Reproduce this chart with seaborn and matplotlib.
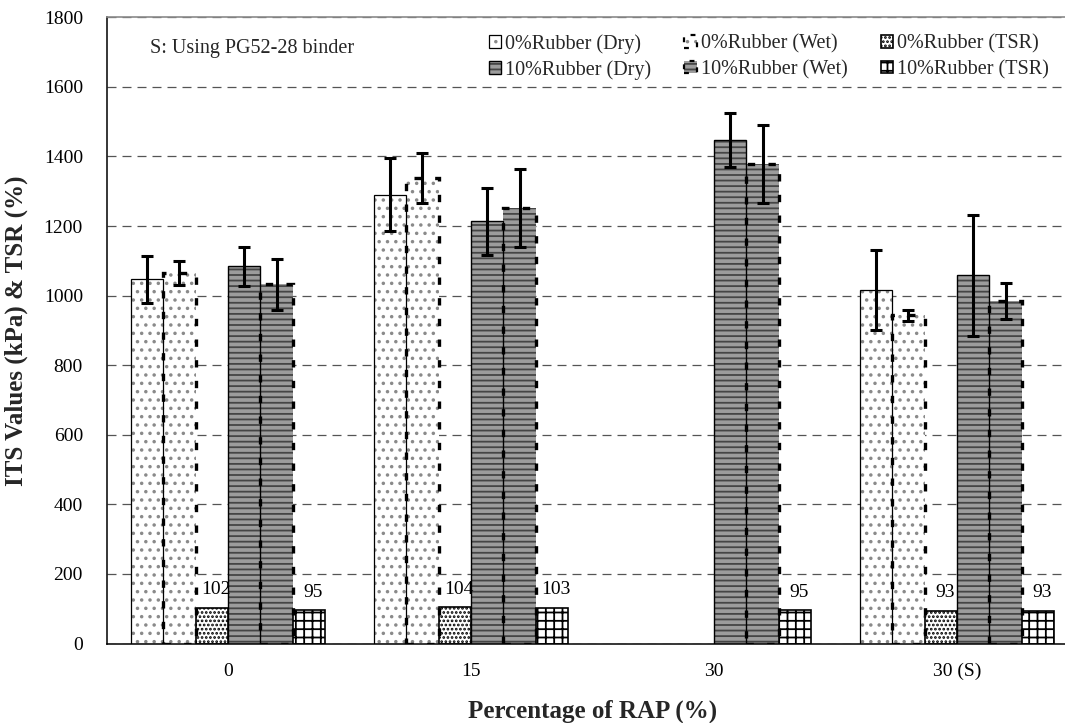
import numpy as np
import pandas as pd
import matplotlib
matplotlib.use("Agg")
import matplotlib.pyplot as plt
import matplotlib.patches as mpatches
import seaborn as sns

# ---------------- data ----------------
categories = ["0", "15", "30", "30 (S)"]
series = ["0%Rubber (Dry)", "0%Rubber (Wet)", "0%Rubber (TSR)",
          "10%Rubber (Dry)", "10%Rubber (Wet)", "10%Rubber (TSR)"]
dry0 = [1047, 1290, np.nan, 1017]
wet0 = [1065, 1338, np.nan, 943]
tsr0 = [102, 104, np.nan, 93]
dry10 = [1084, 1214, 1447, 1058]
wet10 = [1032, 1252, 1378, 984]
tsr10 = [95, 103, 95, 93]
err_dry0 = [68, 105, np.nan, 115]
err_wet0 = [34, 72, np.nan, 15]
err_dry10 = [57, 96, 78, 173]
err_wet10 = [72, 111, 112, 52]
yticks = [0, 200, 400, 600, 800, 1000, 1200, 1400, 1600, 1800]
note = "S: Using PG52-28 binder"
xlabel = "Percentage of RAP (%)"
ylabel = "ITS Values (kPa) & TSR (%)"

values = [dry0, wet0, tsr0, dry10, wet10, tsr10]
errors = [err_dry0, err_wet0, None, err_dry10, err_wet10, None]

rows = []
for s, vals, errs in zip(series, values, errors):
    for i, c in enumerate(categories):
        if not np.isnan(vals[i]):
            rows.append({"RAP": c, "Series": s, "Value": vals[i],
                         "Err": (np.nan if errs is None else errs[i])})
df = pd.DataFrame(rows)

# ---------------- styles ----------------
styles = {
    "0%Rubber (Dry)":  dict(face="white", hatch="..", hcol="#8a8a8a", ls="-", lw=0.9),
    "0%Rubber (Wet)":  dict(face="white", hatch="..", hcol="#8a8a8a", ls=(0, (2.2, 4.0)), lw=2.4),
    "0%Rubber (TSR)":  dict(face="white", hatch="....", hcol="black", ls="-", lw=1.2),
    "10%Rubber (Dry)": dict(face="#9c9c9c", hatch="---", hcol="#454545", ls="-", lw=1.0),
    "10%Rubber (Wet)": dict(face="#9c9c9c", hatch="---", hcol="#454545", ls=(0, (2.2, 4.0)), lw=2.4),
    "10%Rubber (TSR)": dict(face="white", hatch="++", hcol="black", ls="-", lw=1.2),
}

sns.set_theme(style="white")
plt.rcParams["font.family"] = ["Liberation Serif", "DejaVu Serif"]
plt.rcParams["hatch.linewidth"] = 1.3

fig = plt.figure(figsize=(10.65, 7.23), dpi=100)
ax = fig.add_axes([106.5 / 1065, 1 - 643.5 / 723, 972 / 1065, 626.2 / 723])

palette = {s: styles[s]["face"] for s in series}
sns.barplot(data=df, x="RAP", y="Value", hue="Series", order=categories,
            hue_order=series, palette=palette, width=0.8, errorbar=None,
            legend=False, ax=ax, saturation=1)

# style bars, add dashed / solid edges, error bars, TSR labels
for s, cont in zip(series, ax.containers):
    st = styles[s]
    sub = df[df["Series"] == s].set_index("RAP")
    for p in cont.patches:
        h = p.get_height()
        if not np.isfinite(h):
            continue
        p.set_facecolor(st["face"])
        p.set_hatch(st["hatch"])
        p.set_edgecolor(st["hcol"])
        p.set_linewidth(0)
        edge = mpatches.Rectangle((p.get_x(), p.get_y()), p.get_width(), h,
                                  fill=False, edgecolor="black",
                                  linewidth=st["lw"], linestyle=st["ls"], zorder=p.get_zorder() + 0.1)
        ax.add_patch(edge)
        xc = p.get_x() + p.get_width() / 2
        cat = categories[int(round(xc))]
        row = sub.loc[cat]
        if np.isfinite(row["Err"]):
            ax.errorbar(xc, row["Value"], yerr=row["Err"], fmt="none",
                        ecolor="black", elinewidth=2.2, capsize=4, capthick=2.2, zorder=5)
        if "TSR" in s:
            ax.annotate(f"{int(row['Value'])}", xy=(xc, h), xytext=(3, 7),
                        textcoords="offset points", ha="center", va="bottom",
                        fontsize=14, color="black", zorder=6)

ax.set_xlim(-0.5, 3.5)
ax.set_ylim(0, 1800)
ax.set_yticks(yticks)
ax.set_yticklabels([str(t) for t in yticks])
ax.tick_params(axis="y", direction="in", length=4, width=1, pad=17, labelsize=14, colors="black")
ax.tick_params(axis="x", length=0, pad=14, labelsize=14, colors="black")

ax.set_axisbelow(True)
ax.yaxis.grid(True, color="#555555", linewidth=0.9, linestyle=(0, (7.2, 4.8)))
ax.xaxis.grid(False)

for side in ["left", "bottom"]:
    ax.spines[side].set_visible(True)
    ax.spines[side].set_color("black")
    ax.spines[side].set_linewidth(1.1)
ax.spines["top"].set_visible(True)
ax.spines["top"].set_color("#8a8a8a")
ax.spines["top"].set_linewidth(1.2)
ax.spines["right"].set_visible(False)

ax.set_xlabel(xlabel, fontsize=18, fontweight="bold", labelpad=14)
ax.set_ylabel(ylabel, fontsize=18, fontweight="bold", labelpad=11)

ax.text(0.045, 0.95, note, transform=ax.transAxes, fontsize=14.5,
        ha="left", va="center")

# legend
handles = []
for s in series:
    st = styles[s]
    fillp = mpatches.Patch(facecolor=st["face"], hatch=st["hatch"], edgecolor=st["hcol"], linewidth=0)
    edgep = mpatches.Patch(fill=False, edgecolor="black", linewidth=min(st["lw"], 1.6),
                           linestyle=st["ls"])
    handles.append((fillp, edgep))
order = [0, 3, 1, 4, 2, 5]
leg = fig.legend([handles[i] for i in order], [series[i] for i in order],
                 loc="upper left", bbox_to_anchor=(489 / 1065, 1 - 34 / 723),
                 ncol=3, frameon=False, fontsize=14.5, handlelength=0.6,
                 handleheight=0.6, handletextpad=0.2, columnspacing=1.65,
                 labelspacing=0.3, borderaxespad=0, borderpad=0)

fig.savefig("out.png", dpi=100)
